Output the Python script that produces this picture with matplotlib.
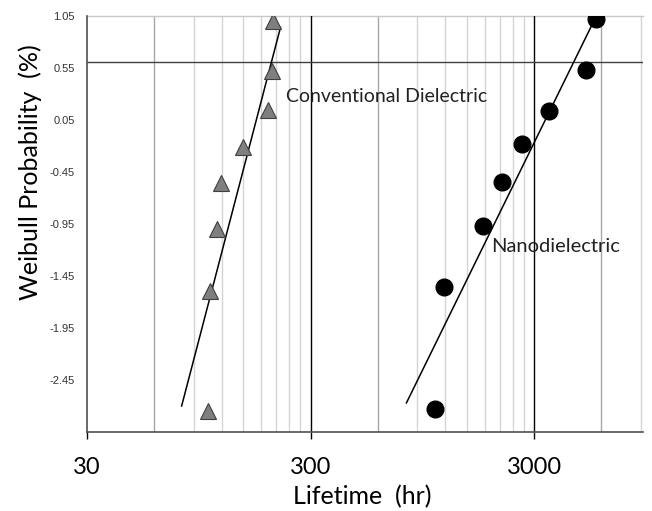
import matplotlib
matplotlib.use("Agg")
import matplotlib.pyplot as plt
from matplotlib.ticker import FixedLocator, NullFormatter

# Weibull plot data
conv_life = [203, 201, 193, 149, 119, 114, 107, 104]
conv_prob = [1.00, 0.52, 0.15, -0.21, -0.56, -1.00, -1.59, -2.75]
nano_life = [5680, 5120, 3500, 2650, 2160, 1780, 1190, 1085]
nano_prob = [1.02, 0.53, 0.14, -0.18, -0.55, -0.97, -1.56, -2.73]

# fitted lines (end points)
conv_fit_x = [79.5, 220]
conv_fit_y = [-2.70, 0.94]
nano_fit_x = [805, 5600]
nano_fit_y = [-2.67, 1.02]

ref_level = 0.61
y_ticks = [1.05, 0.55, 0.05, -0.45, -0.95, -1.45, -1.95, -2.45]
x_major = [30, 300, 3000]
x_minor = [m * d for d in (30, 300, 3000) for m in range(2, 10)]

fig = plt.figure(figsize=(6.52, 5.11), dpi=100)
ax = fig.add_axes([87 / 652, 1 - 432 / 511, (643 - 87) / 652, (432 - 16) / 511])

ax.set_xscale("log")
ax.set_xlim(30, 9200)
ax.set_ylim(-2.95, 1.05)

# vertical grid
for v in x_minor:
    if v >= 9200:
        continue
    col = "#a8a8a8" if v in (60, 600, 6000) else "#d4d4d4"
    ax.axvline(v, color=col, lw=1.0, zorder=0)
for v in (300, 3000):
    ax.axvline(v, color="black", lw=1.0, zorder=1)
ax.axhline(1.05, color="#c8c8c8", lw=1.0, zorder=0, clip_on=False)
ax.axhline(ref_level, color="#404040", lw=1.0, zorder=1)

ax.plot(conv_fit_x, conv_fit_y, color="black", lw=1.1, zorder=2)
ax.plot(nano_fit_x, nano_fit_y, color="black", lw=1.1, zorder=2)
ax.plot(conv_life, conv_prob, linestyle="none", marker="^", ms=12,
        mfc="#7f7f7f", mec="#3f3f3f", mew=0.8, zorder=3)
ax.plot(nano_life, nano_prob, linestyle="none", marker="o", ms=12,
        mfc="black", mec="black", zorder=3)

ax.text(234, 0.28, "Conventional Dielectric", family="Lato", fontsize=14,
        va="center", ha="left", color="#222222")
ax.text(1930, -1.17, "Nanodielectric", family="Lato", fontsize=14.5,
        va="center", ha="left", color="#222222")

for s in ("top", "right"):
    ax.spines[s].set_visible(False)
for s in ("left", "bottom"):
    ax.spines[s].set_color("#505050")
    ax.spines[s].set_linewidth(1.2)

ax.xaxis.set_major_locator(FixedLocator(x_major))
ax.xaxis.set_minor_locator(FixedLocator([]))
ax.xaxis.set_minor_formatter(NullFormatter())
ax.set_xticklabels([str(v) for v in x_major])
ax.tick_params(axis="x", which="major", length=5, width=1, color="black",
               labelsize=17, pad=13)
for lab in ax.get_xticklabels():
    lab.set_family("Lato")

ax.set_yticks(y_ticks)
ax.set_yticklabels([f"{v:.2f}" for v in y_ticks])
ax.tick_params(axis="y", length=0, labelsize=8, pad=9, labelcolor="#333333")
for lab in ax.get_yticklabels():
    lab.set_family("Liberation Sans")

fig.text(362 / 652, 1 - 497 / 511, "Lifetime  (hr)", family="Lato",
         fontsize=18, ha="center", va="center")
fig.text(30 / 652, 1 - 172 / 511, "Weibull Probability  (%)", family="Lato",
         fontsize=18, ha="center", va="center", rotation=90)

fig.savefig("out.png", dpi=100)
